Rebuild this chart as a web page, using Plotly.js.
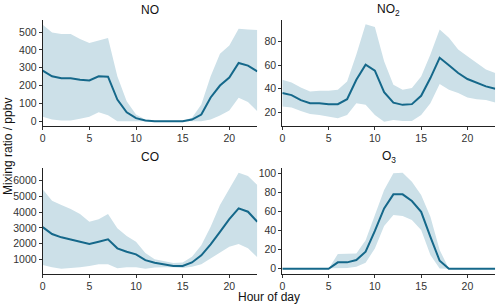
<!DOCTYPE html>
<html>
<head>
<meta charset="utf-8">
<script src="https://cdn.plot.ly/plotly-3.0.1.min.js"></script>
<style>html,body{margin:0;padding:0;background:#fff;}#chart{width:500px;height:306px;}</style>
</head>
<body>
<div id="chart"></div>
<script>
const hours = [0,1,2,3,4,5,6,7,8,9,10,11,12,13,14,15,16,17,18,19,20,21,22,23];
const xTicks = [0,5,10,15,20];

const noMean  = [284,252,241,241,233,229,252,250,121,50,17,4,0,0,0,0,9,37,133,200,245,327,312,280];
const noUpper = [541,498,489,489,461,439,453,467,252,112,37,10,3,2,2,3,19,93,252,378,425,519,514,512];
const noLower = [25,10,4,4,13,25,50,34,0,0,0,0,0,0,0,0,0,0,10,32,60,131,108,56];

const no2Mean  = [36.3,34.6,30.3,27.7,27.7,26.9,26.9,31.1,47.7,60.5,55.4,37.1,28.2,26.3,26.9,34,49.1,66.3,60,53.4,48.3,44.9,42,40];
const no2Upper = [47.7,45.4,41.1,37.7,38.3,38.3,39.1,46.2,69.1,94.8,92.5,63.4,43.4,39.1,40.6,50.5,69.1,90.5,83.4,73.4,67.7,62,56.3,53.4];
const no2Lower = [24.8,24,21.1,18.5,17.7,16.2,14.9,17.7,27.7,26.3,17.7,12,13.4,12.5,12.5,17.7,27.7,44,39.1,36.3,32.5,31.1,30.5,28.2];

const coMean  = [3050,2608,2398,2271,2119,1973,2119,2271,1699,1483,1318,950,780,680,574,574,800,1250,1950,2750,3550,4242,4026,3390];
const coUpper = [5450,4725,4452,4197,3880,3390,3543,3880,2971,2481,2119,1400,1000,880,760,800,1165,1900,3072,4452,5513,6506,6296,5723];
const coLower = [638,491,402,428,491,574,682,682,428,491,491,400,480,490,491,440,520,680,1060,1420,1800,1973,1699,1127];

const o3Mean  = [0,0,0,0,0,0,6.7,6.7,9.1,17.8,39.8,63.3,78,78,71,59.7,33.5,8.4,0,0,0,0,0,0];
const o3Upper = [0,0,0,0,0,0,15.4,15.4,16.1,30,55.2,82.5,100,100.6,91.2,77.3,54.5,19.6,0,0,0,0,0,0];
const o3Lower = [0,0,0,0,0,0,0.6,0.7,2,6.3,21.3,44.8,56.3,55.2,51,40.6,14.4,0.3,0,0,0,0,0,0];

const panelTitles = ['NO', 'NO<sub>2</sub>', 'CO', 'O<sub>3</sub>'];
const yTicks = [
  [0,100,200,300,400,500],
  [20,40,60,80],
  [1000,2000,3000,4000,5000,6000],
  [0,20,40,60,80,100]
];

const ribbonColor = '#cce0e8';
const lineColor = '#15688a';

const panels = [
  {mean: noMean, up: noUpper, lo: noLower, ax: ''},
  {mean: no2Mean, up: no2Upper, lo: no2Lower, ax: '2'},
  {mean: coMean, up: coUpper, lo: coLower, ax: '3'},
  {mean: o3Mean, up: o3Upper, lo: o3Lower, ax: '4'}
];

const traces = [];
panels.forEach(p => {
  const xa = 'x' + p.ax, ya = 'y' + p.ax;
  traces.push({x: hours, y: p.lo, xaxis: xa, yaxis: ya, mode: 'lines', line: {width: 0, color: ribbonColor}, hoverinfo: 'skip', showlegend: false});
  traces.push({x: hours, y: p.up, xaxis: xa, yaxis: ya, mode: 'lines', line: {width: 0, color: ribbonColor}, fill: 'tonexty', fillcolor: ribbonColor, showlegend: false});
  traces.push({x: hours, y: p.mean, xaxis: xa, yaxis: ya, mode: 'lines', line: {width: 2, color: lineColor}, showlegend: false});
});

const W = 500, H = 306;
const xd1 = [42.7/W, 257.3/W], xd2 = [282.3/W, 495.2/W];
const yd1 = [1-126/H, 1-20/H], yd2 = [1-274/H, 1-168/H];
const font = {family: 'Liberation Sans, Arial, sans-serif', size: 10.5, color: '#333333'};

function xax(domain, anchor) {
  return {domain: domain, anchor: anchor, range: [0, 23], tickvals: xTicks, showgrid: false, zeroline: false,
    showline: true, linecolor: '#222', linewidth: 1, ticks: 'outside', ticklen: 3, tickcolor: '#333', tickwidth: 1,
    ticklabelstandoff: -1, tickfont: font};
}
function yax(domain, anchor, range, ticks) {
  return {domain: domain, anchor: anchor, range: range, tickvals: ticks, showgrid: false, zeroline: false,
    showline: true, linecolor: '#222', linewidth: 1, ticks: 'outside', ticklen: 3, tickcolor: '#333', tickwidth: 1,
    tickfont: font};
}

const titleFont = {family: 'Liberation Sans, Arial, sans-serif', size: 12, color: '#111'};
const annotations = [
  {text: panelTitles[0], x: (xd1[0]+xd1[1])/2, y: 1-10/H},
  {text: panelTitles[1], x: (xd2[0]+xd2[1])/2, y: 1-10/H},
  {text: panelTitles[2], x: (xd1[0]+xd1[1])/2, y: 1-157/H},
  {text: panelTitles[3], x: (xd2[0]+xd2[1])/2, y: 1-157/H}
].map(a => Object.assign({xref: 'paper', yref: 'paper', showarrow: false, font: titleFont, xanchor: 'center', yanchor: 'middle'}, a));

annotations.push({text: 'Hour of day', xref: 'paper', yref: 'paper', x: (xd1[0]+xd2[1])/2, y: 1-297/H, showarrow: false,
  font: {family: 'Liberation Sans, Arial, sans-serif', size: 12, color: '#111'}, xanchor: 'center', yanchor: 'middle', borderpad: 0});
annotations.push({text: 'Mixing ratio / ppbv', xref: 'paper', yref: 'paper', x: 8/W, y: 1-147/H, showarrow: false, textangle: -90,
  font: {family: 'Liberation Sans, Arial, sans-serif', size: 12, color: '#111'}, xanchor: 'center', yanchor: 'middle', borderpad: 0});

const layout = {
  width: W, height: H, margin: {l: 0, r: 0, t: 0, b: 0},
  paper_bgcolor: '#fff', plot_bgcolor: '#fff', showlegend: false,
  xaxis: xax(xd1, 'y'), yaxis: yax(yd1, 'x', [-27, 568], yTicks[0]),
  xaxis2: xax(xd2, 'y2'), yaxis2: yax(yd1, 'x2', [8.3, 98.5], yTicks[1]),
  xaxis3: xax(xd1, 'y3'), yaxis3: yax(yd2, 'x3', [66, 6807], yTicks[2]),
  xaxis4: xax(xd2, 'y4'), yaxis4: yax(yd2, 'x4', [-5.5, 105.6], yTicks[3]),
  annotations: annotations
};

Plotly.newPlot('chart', traces, layout, {displayModeBar: false, staticPlot: true});
</script>
</body>
</html>
